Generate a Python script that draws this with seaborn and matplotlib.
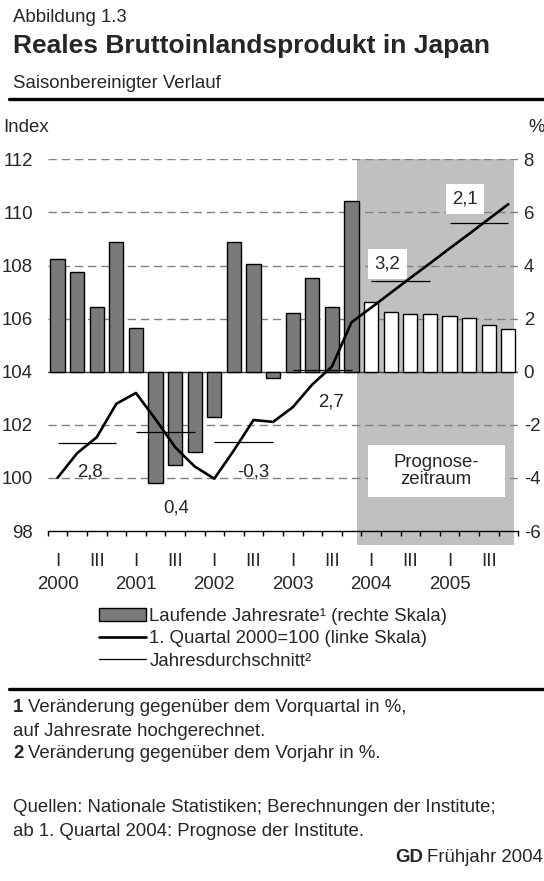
import numpy as np
import pandas as pd
import seaborn as sns
import matplotlib.pyplot as plt
import matplotlib.transforms as mtransforms
from matplotlib.patches import Patch, Rectangle
from matplotlib.lines import Line2D

## Daten (gelesen aus der Abbildung)
years = [2000, 2001, 2002, 2003, 2004, 2005]
quarter_names = ["I", "II", "III", "IV"]
quarters = [f"{y} {q}" for y in years for q in quarter_names]

# Laufende Jahresrate in % (rechte Skala)
rate = [4.24, 3.76, 2.45, 4.88,
        1.65, -4.19, -3.53, -3.03,
        -1.72, 4.88, 4.04, -0.25,
        2.20, 3.52, 2.45, 6.42,
        2.61, 2.25, 2.17, 2.17,
        2.10, 2.03, 1.77, 1.61]

# 1. Quartal 2000 = 100 (linke Skala)
index = [100.0, 100.93, 101.53, 102.79,
         103.20, 102.21, 101.16, 100.43,
         99.97, 101.04, 102.18, 102.11,
         102.66, 103.52, 104.19, 105.86,
         106.41, 106.97, 107.53, 108.08,
         108.64, 109.19, 109.75, 110.31]

# Jahresdurchschnitt (Niveau auf linker Skala) und Veraenderung zum Vorjahr
annual_level = [101.31, 101.72, 101.36, 104.05, 107.42, 109.61]
annual_growth = ["2,8", "0,4", "-0,3", "2,7", "3,2", "2,1"]
first_forecast = 16  # ab 1. Quartal 2004

# Position der Beschriftungen (x in Quartalen, y auf Indexskala)
growth_label_pos = [(1.64, 100.22), (6.05, 98.85), (10.0, 100.22),
                    (13.97, 102.87), (16.83, 108.06), (20.79, 110.5)]
growth_label_box = [False, False, False, False, True, True]

phase = ["Ist" if i < first_forecast else "Prognose" for i in range(len(quarters))]
df = pd.DataFrame({"quarter": quarters, "rate": rate, "index": index, "phase": phase})

## Stil
sns.set_style("white")
plt.rcParams["font.family"] = ["Liberation Sans", "DejaVu Sans"]
plt.rcParams["axes.unicode_minus"] = False
FS = 13.4

W, H = 544, 881
def fx(px):
    return px / W
def fy(py):
    return 1 - py / H

fig = plt.figure(figsize=(W / 100, H / 100), dpi=100)
ax = fig.add_axes([fx(47.7), fy(531), (518.1 - 47.7) / W, (531 - 159.3) / H])

# Prognosezeitraum
ax.axvspan(15.3, 23.3, ymin=-14 / 371.7, ymax=1, color="#c0c0c0", lw=0,
           zorder=0.2, clip_on=False)

sns.barplot(data=df, x="quarter", y="rate", hue="phase",
            palette={"Ist": "#7a7a7a", "Prognose": "white"},
            dodge=False, width=0.72, edgecolor="black", linewidth=1,
            legend=False, ax=ax, zorder=2)

ax.set_ylim(-6, 8)
ax.set_xlim(-0.5, 23.5)
ax.set_yticks(range(-6, 9, 2))
ax.set_axisbelow(True)
for v in range(-4, 9, 2):
    if v == 0:
        ax.axhline(v, color="#404040", lw=1, zorder=1)
    else:
        ax.axhline(v, color="#808080", lw=1, ls=(0, (6, 3.5)), zorder=1)

for s in ["top", "left", "right"]:
    ax.spines[s].set_visible(False)
ax.spines["bottom"].set_color("black")
ax.spines["bottom"].set_linewidth(1)
ax.set_xlabel("")
ax.set_ylabel("")

# x-Achse: Striche an Quartalsgrenzen, I / III unter den Quartalen
ax.set_xticks(np.arange(-0.5, 24, 1))
ax.set_xticklabels([])
ax.tick_params(axis="x", which="major", direction="out", length=3.6, width=1,
               color="black", bottom=True)
minor_pos = list(range(0, 24, 2))
ax.set_xticks(minor_pos, minor=True)
ax.set_xticklabels(["I" if p % 4 == 0 else "III" for p in minor_pos], minor=True)
ax.tick_params(axis="x", which="minor", length=0, pad=16, labelsize=FS)
trans = mtransforms.blended_transform_factory(ax.transData, ax.transAxes)
for i, y in enumerate(years):
    ax.text(4 * i, -0.143, str(y), transform=trans, ha="center", va="center",
            fontsize=FS)

# Index-Verlauf (linke Skala)
ax2 = ax.twinx()
sns.lineplot(x=np.arange(len(index)), y=index, color="black", lw=1.9, ax=ax2,
             zorder=5)
ax2.set_ylim(98, 112)
ax2.set_yticks(range(98, 113, 2))
for s in ax2.spines.values():
    s.set_visible(False)
ax2.set_ylabel("")
ax2.set_xlabel("")

# Skalen tauschen: Prozent rechts, Index links
ax.yaxis.tick_right()
ax.tick_params(axis="y", length=0, pad=4, labelsize=FS, left=False,
               labelleft=False, right=True, labelright=True)
ax2.yaxis.tick_left()
ax2.tick_params(axis="y", length=0, pad=10.5, labelsize=FS, right=False,
                labelright=False, left=True, labelleft=True)

for i, lvl in enumerate(annual_level):
    ax2.hlines(lvl, 4 * i, 4 * i + 3, color="black", lw=0.9, zorder=4)

for (x, y), txt, box in zip(growth_label_pos, annual_growth, growth_label_box):
    kw = {}
    if box:
        kw["bbox"] = dict(boxstyle="square,pad=0.35", fc="white", ec="none")
    ax2.text(x, y, txt, ha="center", va="center", fontsize=FS, zorder=6, **kw)

ax2.add_patch(Rectangle((15.84, 99.28), 6.99, 1.96, fc="white", ec="none",
                        zorder=3))
ax2.text(19.33, 100.26, "Prognose-\nzeitraum", ha="center", va="center",
         fontsize=FS, linespacing=1.05, zorder=6)

## Kopf
fig.text(fx(13), fy(18), "Abbildung 1.3", fontsize=FS, va="center")
fig.text(fx(13), fy(46), "Reales Bruttoinlandsprodukt in Japan", fontsize=19,
         fontweight="bold", va="center")
fig.text(fx(13), fy(84), "Saisonbereinigter Verlauf", fontsize=FS, va="center")
fig.add_artist(Line2D([fx(9), 1], [fy(99), fy(99)], lw=2.4, color="black"))
fig.text(fx(3.5), fy(128), "Index", fontsize=FS, va="center")
fig.text(fx(528), fy(128), "%", fontsize=FS, va="center")

## Legende
handles = [Patch(facecolor="#7a7a7a", edgecolor="black", lw=1),
           Line2D([], [], color="black", lw=1.9),
           Line2D([], [], color="black", lw=0.9)]
labels = ["Laufende Jahresrate\u00b9 (rechte Skala)",
          "1. Quartal 2000=100 (linke Skala)",
          "Jahresdurchschnitt\u00b2"]
fig.legend(handles, labels, loc="upper left", bbox_to_anchor=(fx(99), fy(608)),
           frameon=False, fontsize=FS, handlelength=2.5, handletextpad=0.2,
           labelspacing=0.28, borderpad=0, borderaxespad=0)

## Fuss
fig.add_artist(Line2D([fx(9), 1], [fy(689), fy(689)], lw=2.4, color="black"))
fig.text(fx(13), fy(708), "1", fontsize=FS, fontweight="bold", va="center")
fig.text(fx(27.5), fy(708), "Veränderung gegenüber dem Vorquartal in %,",
         fontsize=FS, va="center")
fig.text(fx(13), fy(731), "auf Jahresrate hochgerechnet.", fontsize=FS, va="center")
fig.text(fx(13), fy(754), "2", fontsize=FS, fontweight="bold", va="center")
fig.text(fx(27.5), fy(754), "Veränderung gegenüber dem Vorjahr in %.",
         fontsize=FS, va="center")
fig.text(fx(13), fy(808), "Quellen: Nationale Statistiken; Berechnungen der Institute;",
         fontsize=FS, va="center")
fig.text(fx(13), fy(831), "ab 1. Quartal 2004: Prognose der Institute.",
         fontsize=FS, va="center")
fig.text(fx(395), fy(858), "GD", fontsize=FS, fontweight="bold", va="center")
fig.text(fx(543), fy(858), "Frühjahr 2004", fontsize=FS, va="center", ha="right")

fig.savefig("out.png", dpi=100)
